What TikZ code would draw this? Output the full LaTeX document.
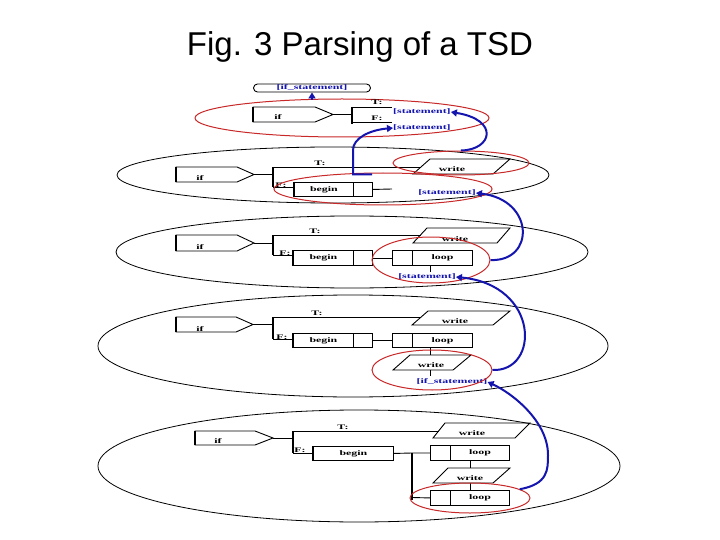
\documentclass[tikz,border=0pt]{standalone}
\usepackage{fontspec}
\setmainfont{Liberation Sans}
\newfontfamily\dfont[FakeStretch=1.7]{Liberation Serif}
\usetikzlibrary{shapes.geometric,arrows.meta}
\definecolor{selred}{RGB}{200,40,40}
\definecolor{flowblue}{RGB}{20,20,175}
\tikzset{
 bx/.style={draw=black, line width=0.9pt},
 thk/.style={draw=black, line width=2pt},
 lvl/.style={ellipse, draw=black, line width=0.8pt, inner sep=0},
 sel/.style={ellipse, draw=selred, line width=1pt, inner sep=0},
 txt/.style={font=\dfont\bfseries\fontsize{7}{7}\selectfont, inner sep=0},
 btxt/.style={txt, text=flowblue},
 flow/.style={draw=flowblue, line width=2pt, -{Triangle[length=6pt,width=7pt]}},
 cell/.style={draw=black, line width=0.9pt, inner sep=0, anchor=north west, font=\dfont\bfseries\fontsize{7}{7}\selectfont}
}
\begin{document}
\begin{tikzpicture}[x=1pt,y=-1pt]
\fill[white] (0,0) rectangle (720,540);
\useasboundingbox (0,0) rectangle (720,540);
\node[font=\fontsize{33}{33}\selectfont, inner sep=0] (title) at (360,47) {Fig. 3 Parsing of a TSD};

% ---------- level ellipses ----------
\node[lvl, minimum width=432pt, minimum height=56pt] (lv1) at (333,175) {};
\node[lvl, minimum width=472pt, minimum height=72pt] (lv2) at (352,252) {};
\node[lvl, minimum width=510pt, minimum height=102pt] (lv3) at (353,346) {};
\node[lvl, minimum width=522pt, minimum height=112pt] (lv4) at (359,466) {};

% ---------- level 0 ----------
\node[sel, minimum width=294pt, minimum height=38pt] (r0) at (342,118) {};
\node[draw, rounded corners=4pt, line width=0.9pt, fill=white, minimum width=117pt, minimum height=8pt, inner sep=0, btxt] (ifs) at (312,88) {[if\_statement]};
\draw[bx] (253,107) -- (315,107) -- (333,114.5) -- (315,122) -- (253,122) -- cycle;
\draw[thk] (253,107) -- (253,122);
\node[txt] (if0) at (278,117) {if};
\coordinate (p0) at (333,114.5);
\coordinate (b0) at (352,114.5);
\draw[bx] (p0) -- (b0);
\draw[thk] (352,107) -- (352,124);
\draw[bx] (352,107) -- (392,107);
\draw[bx] (352,122) -- (392,122);
\node[txt] (t0) at (377,102) {T:};
\node[txt] (f0) at (377,118) {F:};
\node[btxt, anchor=west] (st0T) at (393,112) {[statement]};
\node[btxt, anchor=west] (st0F) at (393,128) {[statement]};
\coordinate (r0top) at (312,100);
\draw[flow] (r0top) -- (ifs.south);

% ---------- level 1 ----------
\draw[bx] (176,167) -- (237,167) -- (254,174.5) -- (237,182) -- (176,182) -- cycle;
\draw[thk] (176,167) -- (176,182);
\node[txt] (if1) at (200,178) {if};
\draw[bx] (254,174.5) -- (273,174.5);
\draw[thk] (273,167) -- (273,187);
\draw[bx] (273,167) -- (421,167);
\node[txt] (t1) at (320,163) {T:};
\node[txt] (f1) at (281,185) {F:};
\draw[bx] (430,159) -- (510,159) -- (493,174) -- (413,174) -- cycle;
\node[txt] (w1) at (452,169) {write};
\draw[bx] (273,187) -- (294,187);
\node[cell, minimum width=59pt, minimum height=14pt] (beg1) at (294,182) {begin};
\draw[thk] (beg1.north west) -- (beg1.south west);
\node[cell, minimum width=19pt, minimum height=14pt] (c1) at (353,182) {};
\coordinate (e1) at (392,189);
\draw[bx] (c1.east) -- (e1);
\node[btxt] (st1) at (447,193) {[statement]};
\node[sel, minimum width=136pt, minimum height=24pt] (re1w) at (461,163) {};
\node[sel, minimum width=218pt, minimum height=32pt] (re1b) at (383,189) {};

% ---------- level 2 ----------
\draw[bx] (176,235) -- (237,235) -- (254,243) -- (237,251) -- (176,251) -- cycle;
\draw[thk] (176,235) -- (176,251);
\node[txt] (if2) at (200,247) {if};
\draw[bx] (254,243) -- (273,243);
\draw[thk] (273,235) -- (273,255);
\draw[bx] (273,235) -- (420.5,235);
\node[txt] (t2) at (315,231) {T:};
\node[txt] (f2) at (285,253) {F:};
\draw[bx] (427,228) -- (510,228) -- (497,243) -- (413,243) -- cycle;
\node[txt] (w2) at (455,239) {write};
\draw[bx] (273,255) -- (293,255);
\node[cell, minimum width=60pt, minimum height=15pt] (beg2) at (293,250) {begin};
\draw[thk] (beg2.north west) -- (beg2.south west);
\node[cell, minimum width=19pt, minimum height=15pt] (c2) at (353,250) {};
\node[cell, minimum width=20pt, minimum height=15pt] (l2c) at (392,250) {};
\node[cell, minimum width=60pt, minimum height=15pt] (loop2) at (412,250) {loop};
\draw[bx] (c2.east) -- (l2c.west);
\coordinate (v2) at (430,272);
\draw[bx] (loop2.south west) ++(18,0) -- (v2);
\node[btxt] (st2) at (427,277) {[statement]};
\node[sel, minimum width=118pt, minimum height=46pt] (re2) at (431,260) {};

% ---------- level 3 ----------
\draw[bx] (176,317) -- (236,317) -- (253,324.5) -- (236,332) -- (176,332) -- cycle;
\draw[thk] (176,317) -- (176,332);
\node[txt] (if3) at (200,329) {if};
\draw[bx] (253,324.5) -- (273,324.5);
\draw[thk] (273,317) -- (273,339);
\draw[bx] (273,317) -- (421,317);
\node[txt] (t3) at (317,313) {T:};
\node[txt] (f3) at (282,337) {F:};
\draw[bx] (428,311) -- (510,311) -- (493,325) -- (412,325) -- cycle;
\node[txt] (w3a) at (455,321) {write};
\draw[bx] (273,339) -- (293,339);
\node[cell, minimum width=60pt, minimum height=14pt] (beg3) at (293,333) {begin};
\draw[thk] (beg3.north west) -- (beg3.south west);
\node[cell, minimum width=19pt, minimum height=14pt] (c3) at (353,333) {};
\node[cell, minimum width=20pt, minimum height=14pt] (l3c) at (392,333) {};
\node[cell, minimum width=60pt, minimum height=14pt] (loop3) at (412,333) {loop};
\draw[bx] (c3.east) -- (l3c.west);
\draw[bx] (430,347) -- (430,355);
\draw[bx] (410,355) -- (471,355) -- (453,370) -- (393,370) -- cycle;
\node[txt] (w3b) at (431,365) {write};
\draw[bx] (430,370) -- (430,376);
\node[btxt] (ifs3) at (452,382) {[if\_statement]};
\node[sel, minimum width=120pt, minimum height=40pt] (re3) at (432,370) {};

% ---------- level 4 ----------
\draw[bx] (195,431) -- (255,431) -- (273,438) -- (255,445) -- (195,445) -- cycle;
\draw[thk] (195,431) -- (195,445);
\node[txt] (if4) at (218,441) {if};
\draw[bx] (273,438) -- (293,438);
\draw[thk] (293,431) -- (293,453);
\draw[bx] (293,431) -- (438.6,431);
\node[txt] (t4) at (343,427) {T:};
\node[txt] (f4) at (300,450) {F:};
\draw[bx] (445,423) -- (530,423) -- (515,438) -- (433,438) -- cycle;
\node[txt] (w4a) at (472,433) {write};
\draw[bx] (293,453) -- (313,453);
\node[cell, minimum width=80pt, minimum height=14pt] (beg4) at (313,446) {begin};
\draw[thk] (beg4.north west) -- (beg4.south west);
\draw[bx] (beg4.east) -- (412,453);
\draw[thk] (412,453) -- (412,500);
\node[cell, minimum width=20pt, minimum height=15pt] (l4ac) at (430,445) {};
\node[cell, minimum width=59pt, minimum height=15pt] (loop4a) at (450,445) {loop};
\draw[bx] (412,453) -- (l4ac.west);
\draw[bx] (470,460) -- (470,468);
\draw[bx] (448,468) -- (510,468) -- (493,483) -- (433,483) -- cycle;
\node[txt] (w4b) at (470,478) {write};
\draw[bx] (470,483) -- (470,490);
\node[cell, minimum width=20pt, minimum height=15pt] (l4bc) at (430,490) {};
\node[cell, minimum width=59pt, minimum height=15pt] (loop4b) at (450,490) {loop};
\draw[bx] (412,497.5) -- (l4bc.west);
\node[sel, minimum width=120pt, minimum height=30pt] (re4) at (470,498) {};

% ---------- flows ----------
\draw[flow] (re1w.north) .. controls (492,150) and (500,120) .. (st0T.east);
\coordinate (re1bt) at (372,174.5);
\draw[flow] (re1bt) -- (353,174.5) -- (353,150) .. controls (353,138) and (370,130) .. (st0F.west);
\draw[flow] (re2.east) .. controls (535,262) and (535,200) .. (st1.east);
\draw[flow] (re3.east) .. controls (540,372) and (540,285) .. (st2.east);
\draw[flow] (re4.10) .. controls (548,484) and (548,470) .. (548,455) .. controls (548,420) and (510,392) .. (ifs3.east);
\end{tikzpicture}
\end{document}
